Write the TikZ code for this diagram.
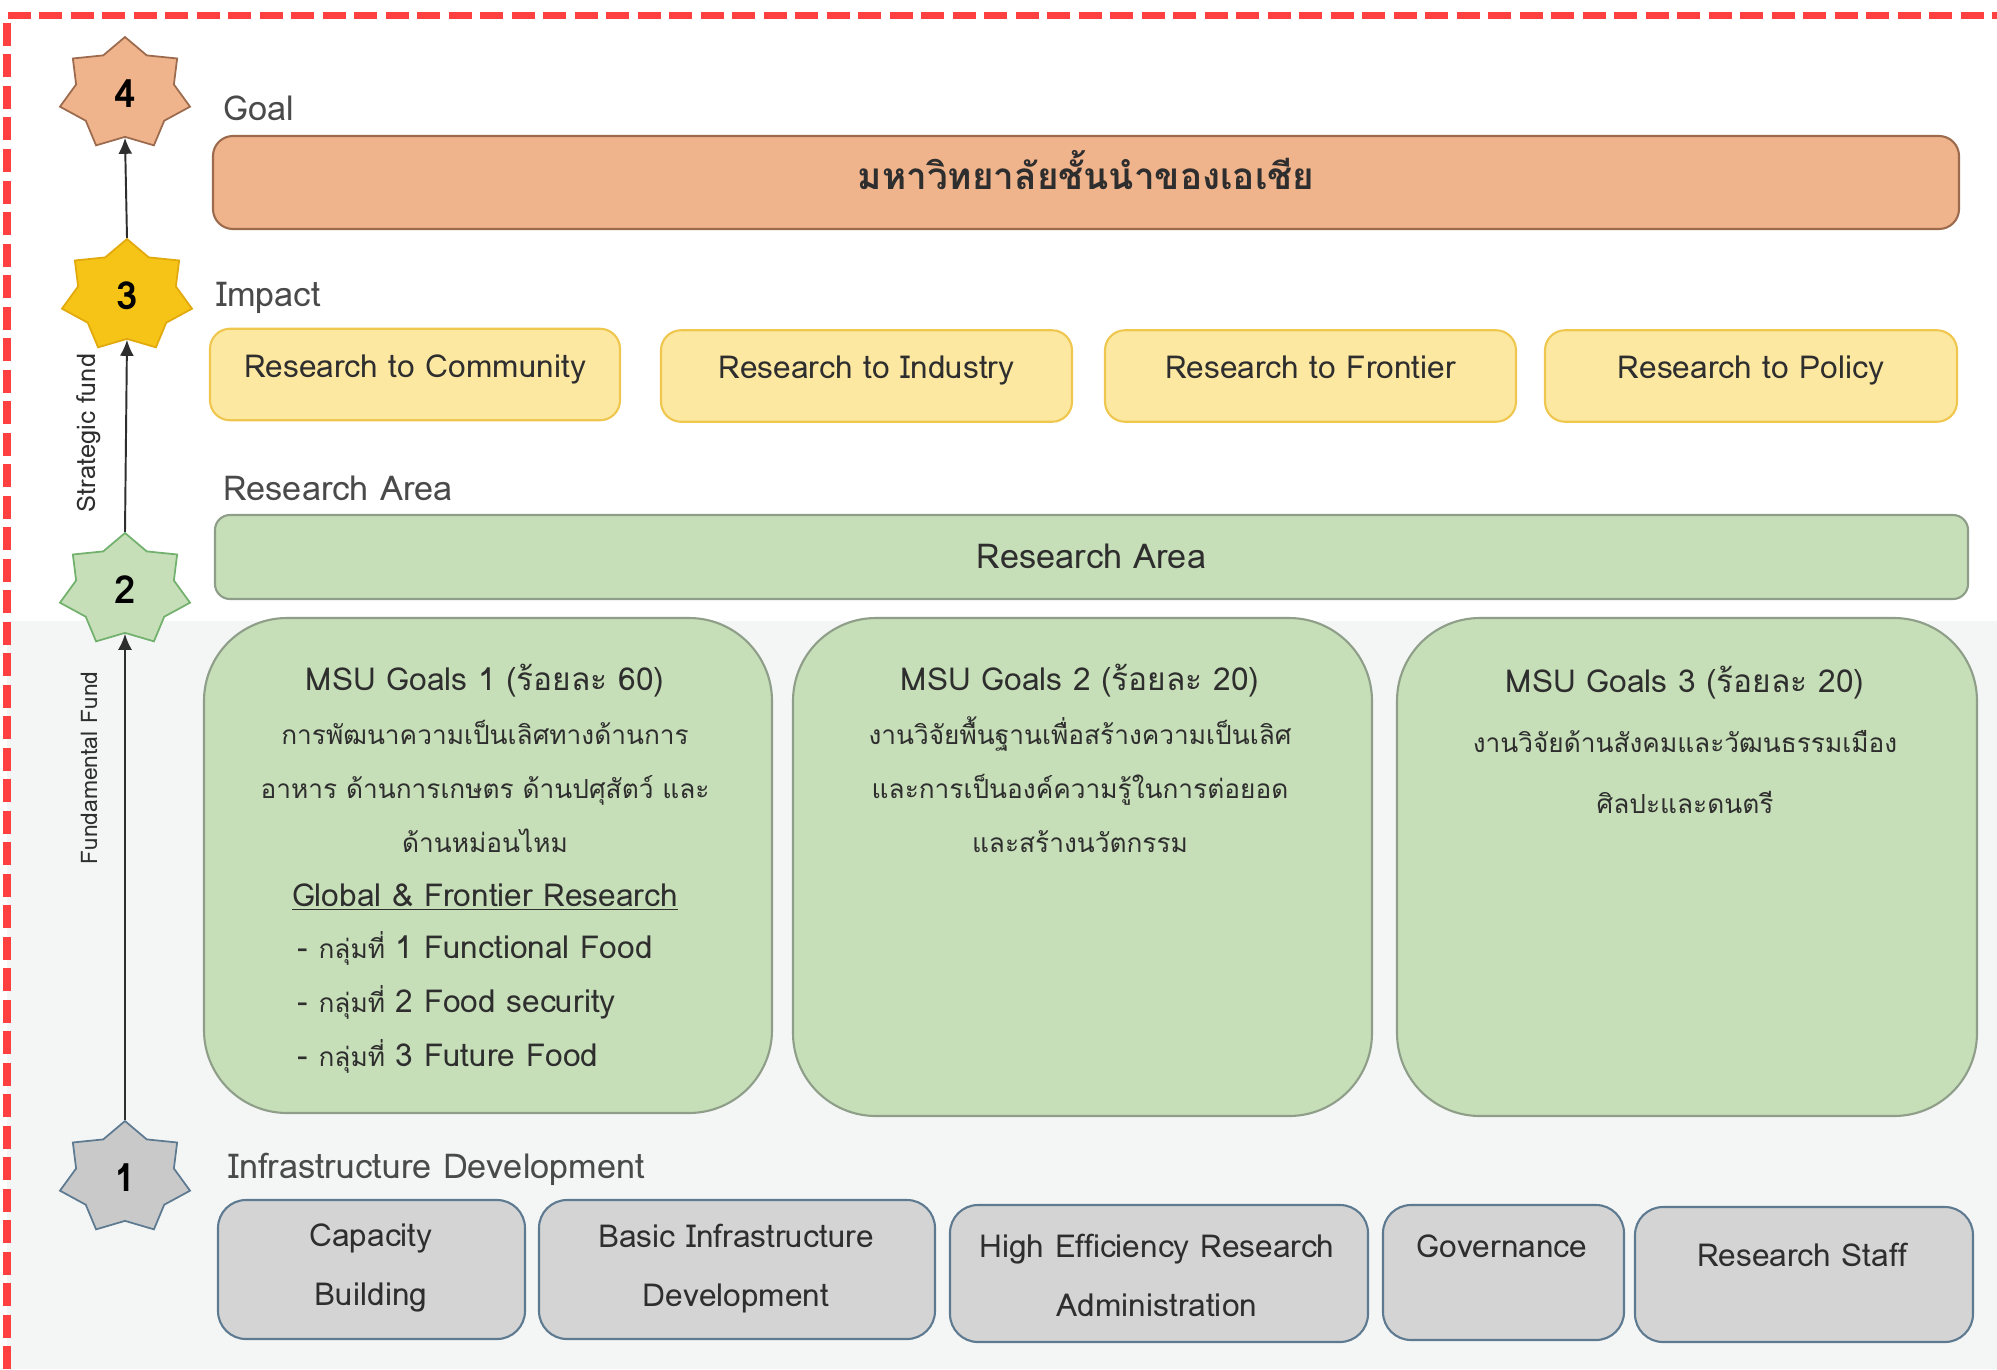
\documentclass[tikz,border=0pt]{standalone}
\usepackage{fontspec}
\setmainfont[Script=Thai]{Loma}
\newfontfamily\thaifont[Script=Thai,Scale=0.83]{Loma}
\newcommand{\thtxt}[1]{{\thaifont #1}}
\usepackage{xcolor}
\usepackage{tikz}
\usetikzlibrary{positioning,shapes.geometric,arrows.meta}
\definecolor{GoalFill}{HTML}{F0B48C}
\definecolor{GoalLine}{HTML}{9C6B4E}
\definecolor{StarYellow}{HTML}{F6C416}
\definecolor{StarYellowLine}{HTML}{E2A90C}
\definecolor{ImpactFill}{HTML}{FDE8A2}
\definecolor{ImpactLine}{HTML}{EFC64E}
\definecolor{AreaFill}{HTML}{C7DFB8}
\definecolor{AreaLine}{HTML}{8E9E88}
\definecolor{InfraFill}{HTML}{D4D4D4}
\definecolor{InfraLine}{HTML}{5E7A91}
\definecolor{TxtDark}{HTML}{2E2E2E}
\definecolor{TxtLabel}{HTML}{4A4A4A}
\definecolor{FrameRed}{HTML}{FF4040}
\definecolor{BackGray}{HTML}{F4F6F6}

\begin{document}
\begin{tikzpicture}[
    % Dao (star) cho cac tang
    levelstar/.style={star, star points=7, star point ratio=1.33, minimum size=2.28cm, inner sep=0pt,
        xscale=1.17, transform shape, line width=1pt, text=black, font=\bfseries\fontsize{22}{24}\selectfont},
    % Hop
    goalbar/.style={rectangle, rounded corners=0.4cm, draw=GoalLine, fill=GoalFill, line width=1.2pt,
        text=TxtDark, text height=0.57cm, text depth=0.29cm, font=\bfseries\fontsize{21}{24}\selectfont},
    impactbox/.style={rectangle, rounded corners=0.4cm, draw=ImpactLine, fill=ImpactFill, line width=1.2pt,
        minimum height=1.83cm, text height=0.5cm, text depth=0.4cm, text=TxtDark, font=\fontsize{18}{21}\selectfont},
    areabar/.style={rectangle, rounded corners=0.3cm, draw=AreaLine, fill=AreaFill, line width=1.2pt,
        text height=0.6cm, text depth=0.14cm, text=TxtDark, font=\fontsize{19.5}{22}\selectfont},
    msubox/.style={rectangle, rounded corners=1.66cm, draw=AreaLine, fill=AreaFill, line width=1.2pt},
    infrabox/.style={rectangle, rounded corners=0.56cm, draw=InfraLine, fill=InfraFill, line width=1.2pt},
    % Chu
    boxtext/.style={text=TxtDark, align=center, inner sep=0pt, font=\fontsize{18}{30.7}\selectfont},
    leveltitle/.style={anchor=west, text=TxtLabel, inner sep=0pt, font=\fontsize{19.5}{22}\selectfont},
    fundlabel/.style={rotate=90, text=TxtDark, inner sep=0pt, font=\fontsize{13}{15}\selectfont},
    % Mui ten
    flowarrow/.style={-{Latex[length=0.32cm,width=0.28cm]}, draw=TxtDark, line width=1.1pt}
]
    \useasboundingbox (0,0) rectangle (39.94,-27.38);
    \fill[white] (0,0) rectangle (39.94,-27.38);
    \fill[BackGray] (0.14,-12.42) rectangle (39.94,-27.38);

    % --- KHUNG DO ---
    \draw[FrameRed, line width=0.14cm, dash pattern=on 0.46cm off 0.17cm] (0.14,-27.38) -- (0.14,-0.30) -- (39.94,-0.30);

    % --- DAO ---
    \node[levelstar, draw=GoalLine, fill=GoalFill] (s4) at (2.50,-1.88) {\scalebox{0.85}[1]{4}};
    \node[levelstar, draw=StarYellowLine, fill=StarYellow] (s3) at (2.54,-5.92) {\scalebox{0.85}[1]{3}};
    \node[levelstar, draw=AreaLine!80!green, fill=AreaFill] (s2) at (2.50,-11.80) {\scalebox{0.85}[1]{2}};
    \node[levelstar, draw=InfraLine, fill=InfraFill!95!black] (s1) at (2.50,-23.56) {\scalebox{0.85}[1]{1}};

    % --- MUI TEN ---
    \draw[flowarrow] (s1.north) -- (s2.south);
    \draw[flowarrow] (s2.north) -- (s3.south);
    \draw[flowarrow] (s3.north) -- (s4.south);

    \node[fundlabel, font=\fontsize{14.5}{16}\selectfont] (fstrat) at (1.78,-8.66) {Strategic fund};
    \node[fundlabel] (ffund) at (1.78,-15.36) {Fundamental Fund};

    % --- TANG 4: GOAL ---
    \node[leveltitle] (tgoal) at (4.46,-2.16) {Goal};
    \node[goalbar, minimum width=34.92cm, minimum height=1.86cm] (goal) at (21.72,-3.65) {มหาวิทยาลัยชั้นนำของเอเชีย};

    % --- TANG 3: IMPACT ---
    \node[leveltitle] (timpact) at (4.32,-5.96) {Impact};
    \node[impactbox, minimum width=8.20cm] (i1) at (8.30,-7.49) {Research to Community};
    \node[impactbox, minimum width=8.22cm] (i2) at (17.33,-7.52) {Research to Industry};
    \node[impactbox, minimum width=8.22cm] (i3) at (26.21,-7.52) {Research to Frontier};
    \node[impactbox, minimum width=8.24cm] (i4) at (35.02,-7.52) {Research to Policy};

    % --- TANG 2: RESEARCH AREA ---
    \node[leveltitle] (tarea) at (4.46,-9.76) {Research Area};
    \node[areabar, minimum width=35.06cm, minimum height=1.68cm] (area) at (21.83,-11.14) {Research Area};

    \node[msubox, minimum width=11.36cm, minimum height=9.90cm] (g1) at (9.76,-17.31) {};
    \node[msubox, minimum width=11.58cm, minimum height=9.96cm] (g2) at (21.65,-17.34) {};
    \node[msubox, minimum width=11.60cm, minimum height=9.96cm] (g3) at (33.74,-17.34) {};

    \node[boxtext] (g1t) at (9.70,-15.74) {MSU Goals 1 (ร้อยละ 60)\\
        \thtxt{การพัฒนาความเป็นเลิศทางด้านการ}\\
        \thtxt{อาหาร ด้านการเกษตร ด้านปศุสัตว์ และ}\\
        \thtxt{ด้านหม่อนไหม}\\
        \underline{Global \& Frontier Research}};
    \node[boxtext, anchor=west, align=left] (g1l) at (5.94,-20.05) {- \thtxt{กลุ่มที่} 1 Functional Food\\
        - \thtxt{กลุ่มที่} 2 Food security\\
        - \thtxt{กลุ่มที่} 3 Future Food};
    \node[boxtext] (g2t) at (21.60,-15.17) {MSU Goals 2 (ร้อยละ 20)\\
        \thtxt{งานวิจัยพื้นฐานเพื่อสร้างความเป็นเลิศ}\\
        \thtxt{และการเป็นองค์ความรู้ในการต่อยอด}\\
        \thtxt{และสร้างนวัตกรรม}};
    \node[boxtext, font=\fontsize{18}{34.4}\selectfont] (g3t) at (33.70,-14.79) {MSU Goals 3 (ร้อยละ 20)\\
        \thtxt{งานวิจัยด้านสังคมและวัฒนธรรมเมือง}\\
        \thtxt{ศิลปะและดนตรี}};

    % --- TANG 1: INFRASTRUCTURE ---
    \node[leveltitle] (tinfra) at (4.56,-23.38) {Infrastructure Development};
    \node[infrabox, minimum width=6.14cm, minimum height=2.78cm] (c1) at (7.43,-25.39) {};
    \node[infrabox, minimum width=7.92cm, minimum height=2.78cm] (c2) at (14.74,-25.39) {};
    \node[infrabox, minimum width=8.36cm, minimum height=2.74cm] (c3) at (23.18,-25.47) {};
    \node[infrabox, minimum width=4.82cm, minimum height=2.70cm] (c4) at (30.07,-25.45) {};
    \node[infrabox, minimum width=6.76cm, minimum height=2.70cm] (c5) at (36.08,-25.49) {};

    \node[boxtext, font=\fontsize{18}{33.6}\selectfont] (c1t) at (7.42,-25.35) {Capacity\\ Building};
    \node[boxtext, font=\fontsize{18}{33.6}\selectfont] (c2t) at (14.72,-25.38) {Basic Infrastructure\\ Development};
    \node[boxtext, font=\fontsize{18}{33.6}\selectfont] (c3t) at (23.14,-25.50) {High Efficiency Research\\ Administration};
    \node[boxtext] (c4t) at (30.04,-24.92) {Governance};
    \node[boxtext] (c5t) at (36.04,-25.10) {Research Staff};
\end{tikzpicture}
\end{document}
